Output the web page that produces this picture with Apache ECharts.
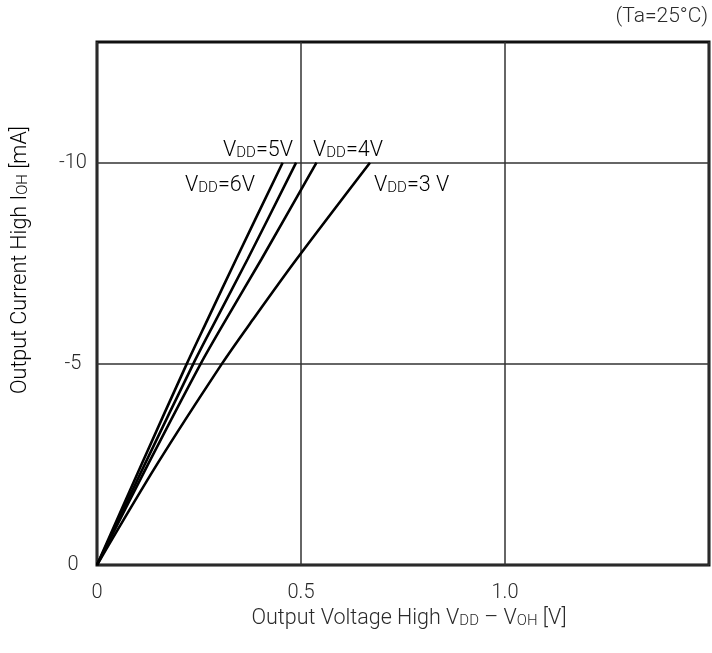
<!DOCTYPE html>
<html>
<head>
<meta charset="utf-8">
<script src="https://cdn.jsdelivr.net/npm/echarts@6/dist/echarts.min.js"></script>
<style>
  html, body { margin: 0; padding: 0; background: #fff; }
  #chart { width: 712px; height: 653px; }
</style>
</head>
<body>
<div id="chart"></div>
<script>
// Output current (mA) levels at which each curve is sampled
const currentLevels = [0, -2.5, -5, -6.1, -7.6, -10];
// Output voltage drop VDD - VOH (V) at each current level, per supply voltage
const vdd6 = [0, 0.109, 0.220, 0.271, 0.341, 0.455];
const vdd5 = [0, 0.117, 0.236, 0.292, 0.369, 0.488];
const vdd4 = [0, 0.125, 0.254, 0.316, 0.403, 0.538];
const vdd3 = [0, 0.147, 0.306, 0.382, 0.489, 0.669];

const xTicks = [0, 0.5, 1.0];
const xGrid = [0, 0.5, 1.0, 1.5];
const yTicks = [-10, -5, 0];

const FONT = 'Roboto, "Liberation Sans", sans-serif';
const WEIGHT = 300;
const TXT = '#2a2a2a';

function pairs(vs) {
  return vs.map((v, i) => [v, currentLevels[i]]);
}

function curve(name, vs) {
  return {
    name: name,
    type: 'line',
    data: pairs(vs),
    smooth: 0.3,
    symbol: 'none',
    lineStyle: { color: '#000', width: 2.6 },
    z: 5
  };
}

const rich = {
  n: { fontSize: 21.5, fontFamily: FONT, fontWeight: WEIGHT, color: TXT },
  s: { fontSize: 15, fontFamily: FONT, fontWeight: WEIGHT, color: TXT, padding: [4, 0, 0, 0] }
};

function vddLabel(text, x, y, align) {
  return {
    type: 'text',
    x: x, y: y,
    style: {
      text: '{n|V}{s|DD}{n|=' + text + '}',
      rich: rich,
      align: align,
      verticalAlign: 'middle'
    },
    z: 10
  };
}

const chart = echarts.init(document.getElementById('chart'));
chart.setOption({
  animation: false,
  backgroundColor: '#fff',
  grid: {
    left: 97, top: 42, right: 3, bottom: 88,
    show: true, borderColor: '#111', borderWidth: 3,
    backgroundColor: 'transparent'
  },
  xAxis: {
    type: 'value',
    min: 0, max: 1.5,
    axisLine: { show: false, onZero: false },
    axisTick: { show: false, customValues: xGrid },
    splitLine: { show: true, lineStyle: { color: '#333', width: 1.5 } },
    axisLabel: {
      customValues: xTicks,
      margin: 18,
      fontSize: 20, fontFamily: FONT, fontWeight: WEIGHT, color: TXT,
      formatter: v => (v === 0 ? '0' : v.toFixed(1))
    },
    name: '{n|Output Voltage High V}{s|DD}{n| – V}{s|OH}{n| [V]}',
    nameLocation: 'middle',
    nameGap: 30,
    nameTextStyle: { rich: rich, padding: [0, 0, 0, 12] }
  },
  yAxis: {
    type: 'value',
    inverse: true,
    min: -13, max: 0,
    axisLine: { show: false },
    axisTick: { show: false, customValues: yTicks },
    splitLine: { show: true, lineStyle: { color: '#333', width: 1.5 } },
    axisLabel: {
      customValues: yTicks,
      margin: 24,
      align: 'center',
      fontSize: 20, fontFamily: FONT, fontWeight: WEIGHT, color: TXT
    }
  },
  graphic: [
    {
      type: 'text',
      x: 21, y: 260,
      rotation: Math.PI / 2,
      style: {
        text: '{n|Output Current High I}{s|OH}{n| [mA]}',
        rich: rich,
        align: 'center',
        verticalAlign: 'middle'
      }
    },
    {
      type: 'text',
      x: 708, y: 17,
      style: {
        text: '(Ta=25°C)',
        fontSize: 21, fontFamily: FONT, fontWeight: WEIGHT, fill: TXT,
        align: 'right', verticalAlign: 'middle'
      }
    },
    vddLabel('5V', 293, 151, 'right'),
    vddLabel('4V', 313, 151, 'left'),
    vddLabel('6V', 185, 186, 'left'),
    vddLabel('3 V', 374, 186, 'left')
  ],
  series: [
    curve('VDD=6V', vdd6),
    curve('VDD=5V', vdd5),
    curve('VDD=4V', vdd4),
    curve('VDD=3V', vdd3)
  ]
});
</script>
</body>
</html>
